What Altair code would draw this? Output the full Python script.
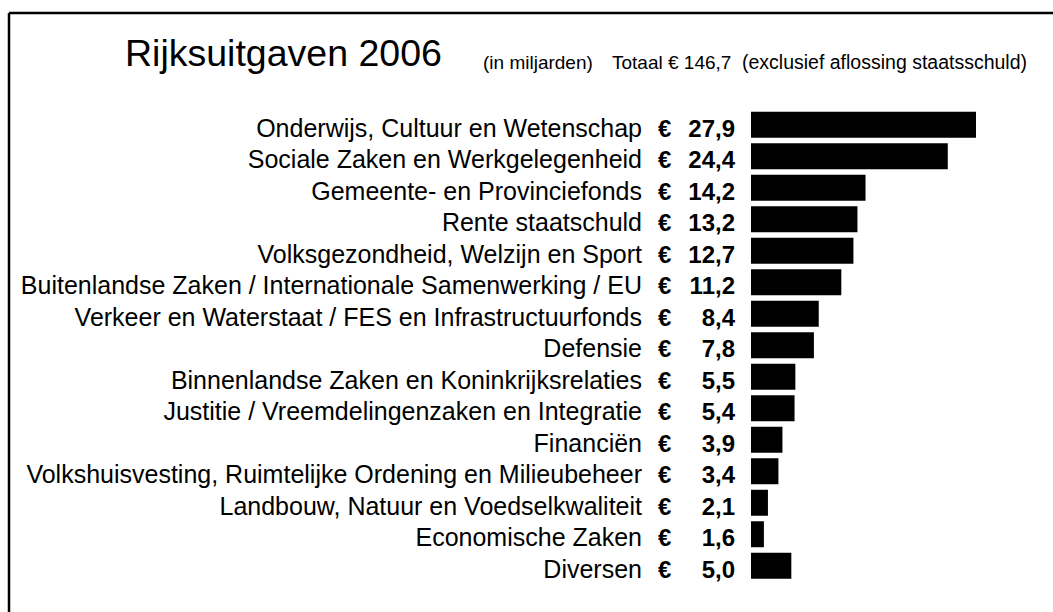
import altair as alt
import pandas as pd

categories = [
    "Onderwijs, Cultuur en Wetenschap",
    "Sociale Zaken en Werkgelegenheid",
    "Gemeente- en Provinciefonds",
    "Rente staatschuld",
    "Volksgezondheid, Welzijn en Sport",
    "Buitenlandse Zaken / Internationale Samenwerking / EU",
    "Verkeer en Waterstaat / FES en Infrastructuurfonds",
    "Defensie",
    "Binnenlandse Zaken en Koninkrijksrelaties",
    "Justitie / Vreemdelingenzaken en Integratie",
    "Financiën",
    "Volkshuisvesting, Ruimtelijke Ordening en Milieubeheer",
    "Landbouw, Natuur en Voedselkwaliteit",
    "Economische Zaken",
    "Diversen",
]
values = [27.9, 24.4, 14.2, 13.2, 12.7, 11.2, 8.4, 7.8, 5.5, 5.4, 3.9, 3.4, 2.1, 1.6, 5.0]
value_labels = ["27,9", "24,4", "14,2", "13,2", "12,7", "11,2", "8,4", "7,8",
                "5,5", "5,4", "3,9", "3,4", "2,1", "1,6", "5,0"]

title_text = "Rijksuitgaven 2006"
sub_unit = "(in miljarden)"
sub_total = "Totaal € 146,7"
sub_note = "(exclusief aflossing staatsschuld)"

df = pd.DataFrame({"cat": categories, "value": values, "vlabel": value_labels, "euro": ["€"] * len(categories)})

FONT = "Liberation Sans"

yenc = alt.Y("cat:N", sort=categories, axis=None,
             scale=alt.Scale(range=[109, 581.5], paddingInner=0.175, paddingOuter=0.0875))

base = alt.Chart(df)

bars = base.mark_bar(color="black").encode(
    x=alt.X("value:Q", axis=None, scale=alt.Scale(domain=[0, 27.9], range=[751, 976], nice=False, zero=True)),
    y=yenc,
)

labels = base.mark_text(align="right", baseline="alphabetic", dy=12, font=FONT, fontSize=25, color="black").encode(
    x=alt.value(642), y=yenc, text="cat:N"
)
euros = base.mark_text(align="left", baseline="alphabetic", dy=12, font=FONT, fontSize=24, fontWeight="bold", color="black").encode(
    x=alt.value(658), y=yenc, text="euro:N"
)
vals = base.mark_text(align="right", baseline="alphabetic", dy=12, font=FONT, fontSize=24, fontWeight="bold", color="black").encode(
    x=alt.value(735), y=yenc, text="vlabel:N"
)

def txt(s, x, y, size):
    return alt.Chart(pd.DataFrame({"t": [s]})).mark_text(
        align="left", baseline="alphabetic", font=FONT, fontSize=size, color="black"
    ).encode(x=alt.value(x), y=alt.value(y), text="t:N")

title = txt(title_text, 125, 66, 37.5)
s1 = txt(sub_unit, 483, 68.5, 19)
s2 = txt(sub_total, 612, 68.5, 19)
s3 = txt(sub_note, 742, 68.5, 19.5)

border_top = alt.Chart(pd.DataFrame({"a": [0]})).mark_rule(color="black", strokeWidth=2.5).encode(
    x=alt.value(9), x2=alt.value(1053), y=alt.value(13)
)
border_left = alt.Chart(pd.DataFrame({"a": [0]})).mark_rule(color="black", strokeWidth=2.5).encode(
    x=alt.value(9), y=alt.value(13), y2=alt.value(612)
)

chart = alt.layer(bars, labels, euros, vals, title, s1, s2, s3, border_top, border_left).properties(
    width=1053, height=612, padding=0, autosize=alt.AutoSizeParams(type="none"), background="white"
).configure_view(stroke=None)

chart.save("out.html", embed_options={"renderer": "svg", "actions": False})
